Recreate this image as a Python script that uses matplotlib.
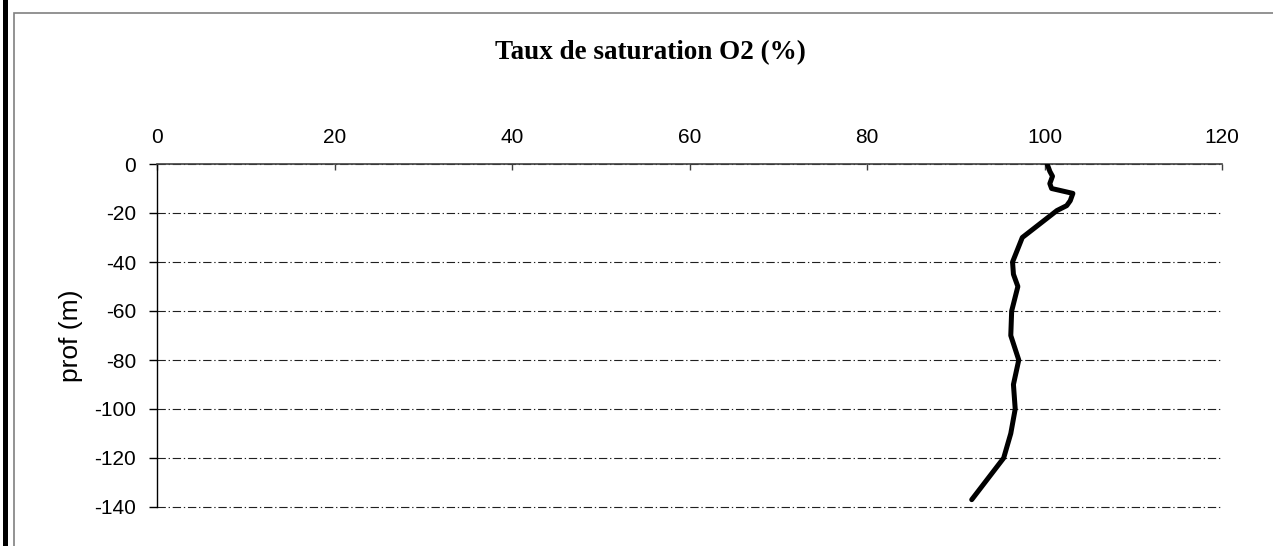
import numpy as np
import matplotlib.pyplot as plt
from matplotlib.patches import Rectangle

# O2 saturation profile
depth = [0, -3, -5, -8, -10, -12, -15, -17, -19, -30, -40, -45, -50,
         -60, -70, -80, -90, -100, -110, -120, -137]
saturation = [100.3, 100.6, 100.9, 100.6, 100.8, 103.2, 102.9, 102.5, 101.4,
              97.5, 96.4, 96.5, 97.0, 96.3, 96.2, 97.1, 96.5, 96.7, 96.2,
              95.4, 91.8]

x_ticks = [0, 20, 40, 60, 80, 100, 120]
y_ticks = [0, -20, -40, -60, -80, -100, -120, -140]

plt.rcParams['font.family'] = ['Liberation Sans', 'DejaVu Sans']
plt.rcParams['axes.unicode_minus'] = False

W, H = 1273, 546
fig = plt.figure(figsize=(W / 100, H / 100), dpi=100)

# outer chart frame and the thick bar on the left
fig.patches.append(Rectangle((3 / W, 0), 5 / W, 1, transform=fig.transFigure,
                             facecolor='black', edgecolor='none'))
fig.patches.append(Rectangle((14 / W, -0.1), 1.2, (H - 13) / H + 0.1,
                             transform=fig.transFigure, facecolor='none',
                             edgecolor='#808080', linewidth=1.2))

left, right, top, bottom = 157, 1222, 164, 507
ax = fig.add_axes([left / W, (H - bottom) / H, (right - left) / W, (bottom - top) / H])

ax.plot(saturation, depth, color='black', linewidth=3.6,
        solid_joinstyle='round', solid_capstyle='round', zorder=3)

ax.set_xlim(0, 120)
ax.set_ylim(-140, 0)
ax.set_xticks(x_ticks)
ax.set_yticks(y_ticks)
ax.xaxis.tick_top()
ax.tick_params(axis='x', direction='in', length=4, width=1, color='#404040',
               pad=12, labelsize=15)
ax.tick_params(axis='y', direction='out', length=6, width=1, color='black',
               pad=9, labelsize=15)

ax.grid(axis='y', color='#202020', linewidth=0.8,
        linestyle=(0, (7.5, 2.5, 1.2, 2.5)))
for gl in ax.yaxis.get_gridlines():
    gl.set_clip_on(False)
ax.set_axisbelow(True)

ax.spines['right'].set_visible(False)
ax.spines['bottom'].set_visible(False)
ax.spines['top'].set_color('#404040')
ax.spines['top'].set_linewidth(1.2)
ax.spines['left'].set_color('black')
ax.spines['left'].set_linewidth(1.0)

ax.set_ylabel('prof (m)', fontsize=19, labelpad=8)

fig.text(650 / W, 1 - 53 / H, 'Taux de saturation O2 (%)', ha='center', va='center',
         fontsize=19.5, fontweight='bold', family='Liberation Serif')

fig.savefig('out.png', dpi=100)
